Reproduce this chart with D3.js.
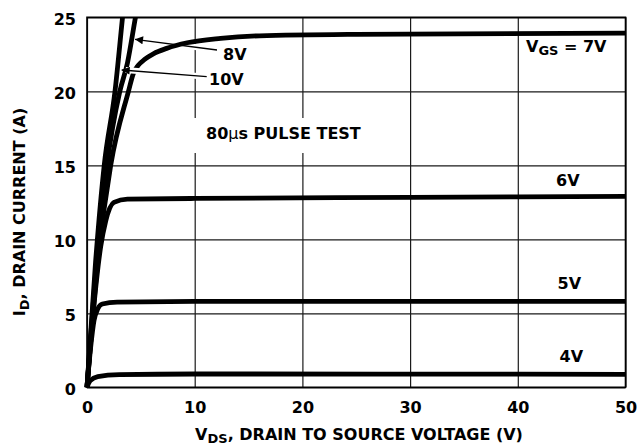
<!DOCTYPE html>
<html>
<head>
<meta charset="utf-8">
<script src="https://cdn.jsdelivr.net/npm/d3@7/dist/d3.min.js"></script>
<style>
  body { margin: 0; background: #fff; }
  svg { display: block; }
  text { font-family: "DejaVu Sans", sans-serif; font-weight: bold; fill: #000; font-size: 16px; }
  .grid line { stroke: #1a1a1a; stroke-width: 1.2; }
  .grid .domain { display: none; }
  .curve { fill: none; stroke: #000; stroke-width: 4.8; stroke-linejoin: round; }
</style>
</head>
<body>
<svg width="638" height="446"></svg>
<script>
// tick values
var xTicks = [0, 10, 20, 30, 40, 50];
var yTicks = [0, 5, 10, 15, 20, 25];

// I_D vs V_DS for each V_GS
var vds4 = [0, 0.3, 1.0, 3.0, 10, 30, 50];
var id4  = [0, 0.45, 0.72, 0.85, 0.9, 0.89, 0.88];

var vds5 = [0, 0.34, 0.65, 1.0, 1.42, 2.8, 10, 50];
var id5  = [0, 2.7, 4.5, 5.3, 5.63, 5.76, 5.8, 5.8];

var vds6 = [0, 0.6, 1.27, 1.74, 2.5, 3.75, 10, 30, 50];
var id6  = [0, 5.2, 9.5, 11.25, 12.5, 12.72, 12.76, 12.83, 12.9];

var vds7 = [0, 1.0, 2.2, 3.85, 4.3, 4.75, 5.35, 6.2, 7.4, 9.3, 12.4, 16, 25, 50];
var id7  = [0, 8.5, 15, 20, 21.2, 21.75, 22.15, 22.55, 22.9, 23.28, 23.58, 23.75, 23.85, 23.93];

var vds8 = [0, 0.9, 1.85, 3.05, 3.75, 4.5, 5.0];
var id8  = [0, 8.5, 15, 20, 21.9, 25, 27];

var vds10 = [0, 0.8, 1.6, 2.6, 3.3, 3.8];
var id10  = [0, 8.5, 15, 20, 25, 28.5];

var svg = d3.select("svg");

// plot box (note: "top" is taken by window.top)
var plotL = 87, plotR = 625.5, plotT = 17.3, plotB = 387.3;

var x = d3.scaleLinear().domain([0, 50]).range([plotL, plotR]);
var y = d3.scaleLinear().domain([0, 25]).range([plotB, plotT]);

// grid + tick labels
svg.append("g")
  .attr("class", "grid")
  .attr("transform", "translate(0," + plotB + ")")
  .call(d3.axisBottom(x).tickValues(xTicks).tickSize(-(plotB - plotT)).tickPadding(14.5));

svg.append("g")
  .attr("class", "grid")
  .attr("transform", "translate(" + plotL + ",0)")
  .call(d3.axisLeft(y).tickValues(yTicks).tickSize(-(plotR - plotL)).tickPadding(11))
  .call(function(g) { g.selectAll("text").attr("dy", "0.45em"); });

svg.selectAll(".grid").attr("font-family", null).attr("font-size", null);

// frame
svg.append("rect")
  .attr("x", plotL).attr("y", plotT)
  .attr("width", plotR - plotL).attr("height", plotB - plotT)
  .attr("fill", "none").attr("stroke", "#000").attr("stroke-width", 1.6);

// white box behind the test note
svg.append("rect")
  .attr("x", 190).attr("y", 118).attr("width", 185).attr("height", 35)
  .attr("fill", "#fff");

// arrow marker
svg.append("defs").append("marker")
  .attr("id", "arrow")
  .attr("viewBox", "0 -5 10 10")
  .attr("refX", 10)
  .attr("refY", 0)
  .attr("markerUnits", "userSpaceOnUse")
  .attr("markerWidth", 11)
  .attr("markerHeight", 8)
  .attr("orient", "auto")
  .append("path")
  .attr("d", "M0,-5L10,0L0,5Z");

function drawArrow(x1, y1, x2, y2) {
  svg.append("line")
    .attr("x1", x1).attr("y1", y1).attr("x2", x2 + 4).attr("y2", y2)
    .attr("stroke", "#fff").attr("stroke-width", 6);
  svg.append("line")
    .attr("x1", x1).attr("y1", y1).attr("x2", x2).attr("y2", y2)
    .attr("stroke", "#000").attr("stroke-width", 1.3)
    .attr("marker-end", "url(#arrow)");
}

// 8V arrow sits under the curves
drawArrow(217, 50, 135, 39.3);

// curves
svg.append("clipPath").attr("id", "clip")
  .append("rect").attr("x", plotL - 10).attr("y", plotT)
  .attr("width", plotR - plotL + 10).attr("height", plotB - plotT + 10);

var curves = [
  { vds: vds4, id: id4 },
  { vds: vds5, id: id5 },
  { vds: vds6, id: id6 },
  { vds: vds7, id: id7 },
  { vds: vds8, id: id8 },
  { vds: vds10, id: id10 }
];

var line = d3.line()
  .x(function(d) { return x(d[0]); })
  .y(function(d) { return y(d[1]); })
  .curve(d3.curveMonotoneX);

svg.append("g")
  .attr("clip-path", "url(#clip)")
  .selectAll("path")
  .data(curves)
  .enter().append("path")
  .attr("class", "curve")
  .attr("d", function(c) { return line(d3.zip(c.vds, c.id)); });

// 10V arrow cuts across the curves
drawArrow(206.7, 76.7, 121.7, 70);

// labels
function label(px, py, parts) {
  var t = svg.append("text").attr("x", px).attr("y", py);
  parts.forEach(function(p) {
    var s = t.append("tspan").text(p.t);
    if (p.sub) s.attr("font-size", "13px").attr("dy", 3.5);
    if (p.up) s.attr("dy", -3.5);
    if (p.light) s.attr("font-weight", "normal");
  });
  return t;
}

label(223, 60, [{ t: "8V" }]);
label(209, 85, [{ t: "10V" }]);
label(526, 51.5, [{ t: "V" }, { t: "GS", sub: true }, { t: " = 7V", up: true }]);
label(556, 186, [{ t: "6V" }]);
label(557.5, 289, [{ t: "5V" }]);
label(559.5, 362, [{ t: "4V" }]);
label(206, 139, [{ t: "80" }, { t: "\u03bc", light: true }, { t: "s PULSE TEST" }]);

// axis titles
label(359, 439.5, [{ t: "V" }, { t: "DS", sub: true }, { t: ", DRAIN TO SOURCE VOLTAGE (V)", up: true }])
  .attr("text-anchor", "middle");

label(0, 0, [{ t: "I" }, { t: "D", sub: true }, { t: ", DRAIN CURRENT (A)", up: true }])
  .attr("text-anchor", "middle")
  .attr("transform", "translate(25,212) rotate(-90)");
</script>
</body>
</html>
